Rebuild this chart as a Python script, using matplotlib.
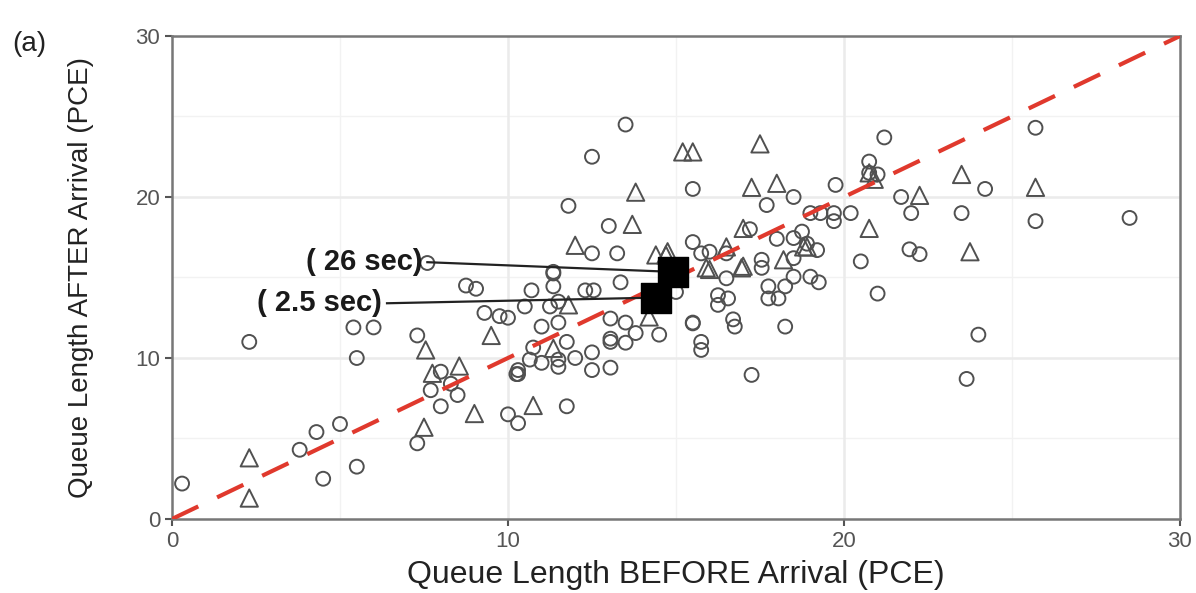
import matplotlib
matplotlib.use("Agg")
import matplotlib.pyplot as plt
import numpy as np

plt.rcParams['font.family'] = ['Liberation Sans', 'DejaVu Sans']

# Circles (one group)
circ_x = [0.3, 2.3, 3.8, 4.3, 4.5, 5.0, 5.5, 5.4, 6.0, 5.5, 7.3, 7.3, 7.7, 8.0, 8.3, 8.5,
          8.0, 8.75, 9.05, 9.3, 9.75, 10.0, 10.0, 10.3, 7.6,
          13.5, 12.5, 15.5, 11.8, 13.0, 18.5, 19.75, 17.7, 12.5, 13.25, 15.5, 11.35,
          17.2, 18.0, 18.5, 18.75, 19.0, 19.3, 19.7, 19.7, 19.2, 16.0, 16.5, 17.55,
          17.55, 18.5, 18.5, 19.0,
          21.2, 25.7, 20.75, 20.75, 21.0, 21.7, 24.2, 20.2, 22.0, 23.5, 25.7, 28.5,
          21.95, 22.25, 20.5, 21.0, 24.0, 23.65,
          19.25, 18.25, 17.75, 17.75, 18.05, 18.25, 17.25, 16.25, 16.55, 16.25, 16.7,
          16.75, 15.75, 15.75, 15.5, 14.5, 15.0, 16.5, 13.35, 12.3, 12.55, 11.35,
          11.35, 10.7, 10.5, 11.25, 11.5, 13.05, 13.5, 11.5, 11.0, 13.8, 13.05, 13.05,
          13.5, 11.75, 10.75, 12.5, 12.0, 11.5, 11.5, 11.0, 10.65, 10.3, 10.25, 12.5,
          13.05, 11.75, 10.3, 15.75, 18.9, 15.5]
circ_y = [2.2, 11.0, 4.3, 5.4, 2.5, 5.9, 3.25, 11.9, 11.9, 10.0, 11.4, 4.7, 8.0, 9.15, 8.4, 7.7,
          7.0, 14.5, 14.3, 12.8, 12.6, 6.5, 12.5, 9.0, 15.9,
          24.5, 22.5, 20.5, 19.45, 18.2, 20.0, 20.75, 19.5, 16.5, 16.5, 17.2, 15.35,
          18.0, 17.4, 17.45, 17.85, 19.0, 19.0, 19.0, 18.5, 16.7, 16.6, 16.5, 16.1,
          15.6, 16.2, 15.05, 15.05,
          23.7, 24.3, 22.2, 21.5, 21.4, 20.0, 20.5, 19.0, 19.0, 19.0, 18.5, 18.7,
          16.75, 16.45, 16.0, 14.0, 11.45, 8.7,
          14.7, 14.45, 14.45, 13.7, 13.7, 11.95, 8.95, 13.9, 13.7, 13.3, 12.4,
          11.95, 11.0, 10.5, 12.2, 11.45, 14.1, 14.95, 14.7, 14.2, 14.2, 14.45,
          15.25, 14.2, 13.2, 13.2, 13.5, 12.45, 12.2, 12.2, 11.95, 11.55, 11.2, 11.0,
          10.95, 11.0, 10.65, 10.35, 10.0, 9.9, 9.45, 9.7, 9.9, 9.25, 9.0, 9.25,
          9.4, 7.0, 5.95, 16.5, 17.1, 12.15]

# Triangles (other group)
tri_x = [2.3, 2.3, 7.55, 7.75, 8.55, 9.0, 7.5, 9.5,
         15.2, 15.5, 17.5, 13.8, 17.25, 18.0, 13.7, 12.0, 17.0, 14.4, 14.7, 16.5,
         18.2, 17.0, 16.0, 18.9, 14.2, 11.8, 11.35, 10.75,
         20.75, 20.9, 22.25, 23.5, 25.7, 20.75, 23.75, 14.75, 15.9, 16.95, 18.8]
tri_y = [3.8, 1.3, 10.5, 9.05, 9.5, 6.55, 5.7, 11.4,
         22.8, 22.8, 23.3, 20.3, 20.6, 20.85, 18.3, 17.0, 18.05, 16.4, 16.4, 16.9,
         16.1, 15.7, 15.5, 16.9, 12.55, 13.3, 10.6, 7.05,
         21.5, 21.1, 20.1, 21.4, 20.6, 18.05, 16.6, 16.6, 15.6, 15.6, 16.9]

# Highlighted mean points
sq_x = [14.9, 14.4]
sq_y = [15.35, 13.75]
sq_labels = ['( 26 sec)', '( 2.5 sec)']
label_x = [7.6, 6.4]
label_y = [15.95, 13.4]

fig = plt.figure(figsize=(11.96, 5.93), dpi=100)
ax = fig.add_axes([0.1438, 0.1248, 0.8428, 0.8145])

grey_grid = '#ebebeb'
for v in [5, 15, 25]:
    ax.axvline(v, color='#f2f2f2', lw=1.0, zorder=0)
    ax.axhline(v, color='#f2f2f2', lw=1.0, zorder=0)
for v in [10, 20]:
    ax.axvline(v, color=grey_grid, lw=1.8, zorder=0)
    ax.axhline(v, color=grey_grid, lw=1.8, zorder=0)

ax.scatter(circ_x, circ_y, s=100, marker='o', facecolors='none',
           edgecolors='#505050', linewidths=1.4, zorder=3)
ax.scatter(tri_x, tri_y, s=155, marker='^', facecolors='none',
           edgecolors='#505050', linewidths=1.4, zorder=3)

ax.plot([0, 30], [0, 30], color='#e0392d', lw=3, dashes=(7, 5), zorder=4)

# leader lines and labels
for lx, ly, sx, sy, t in zip(label_x, label_y, sq_x, sq_y, sq_labels):
    ax.plot([lx, sx], [ly, sy], color='#222222', lw=1.6, zorder=5)
    ax.text(lx - 0.15, ly, t, ha='right', va='center', fontsize=21,
            fontweight='bold', color='#1a1a1a', zorder=6)

ax.scatter(sq_x, sq_y, s=480, marker='s', color='black', zorder=6)

ax.set_xlim(0, 30)
ax.set_ylim(0, 30)
ax.set_xticks([0, 10, 20, 30])
ax.set_yticks([0, 10, 20, 30])
ax.tick_params(axis='both', colors='#555555', labelcolor='#555555', labelsize=16,
               length=5, width=1.5, direction='out')
for s in ax.spines.values():
    s.set_color('#777777')
    s.set_linewidth(1.8)

ax.set_xlabel('Queue Length BEFORE Arrival (PCE)', fontsize=23, color='#222222', labelpad=6)
ax.set_ylabel('Queue Length AFTER Arrival (PCE)', fontsize=20, color='#222222', labelpad=30)

fig.text(0.01, 0.925, '(a)', fontsize=20, color='#222222', ha='left', va='center')

fig.savefig('out.png', dpi=100)
